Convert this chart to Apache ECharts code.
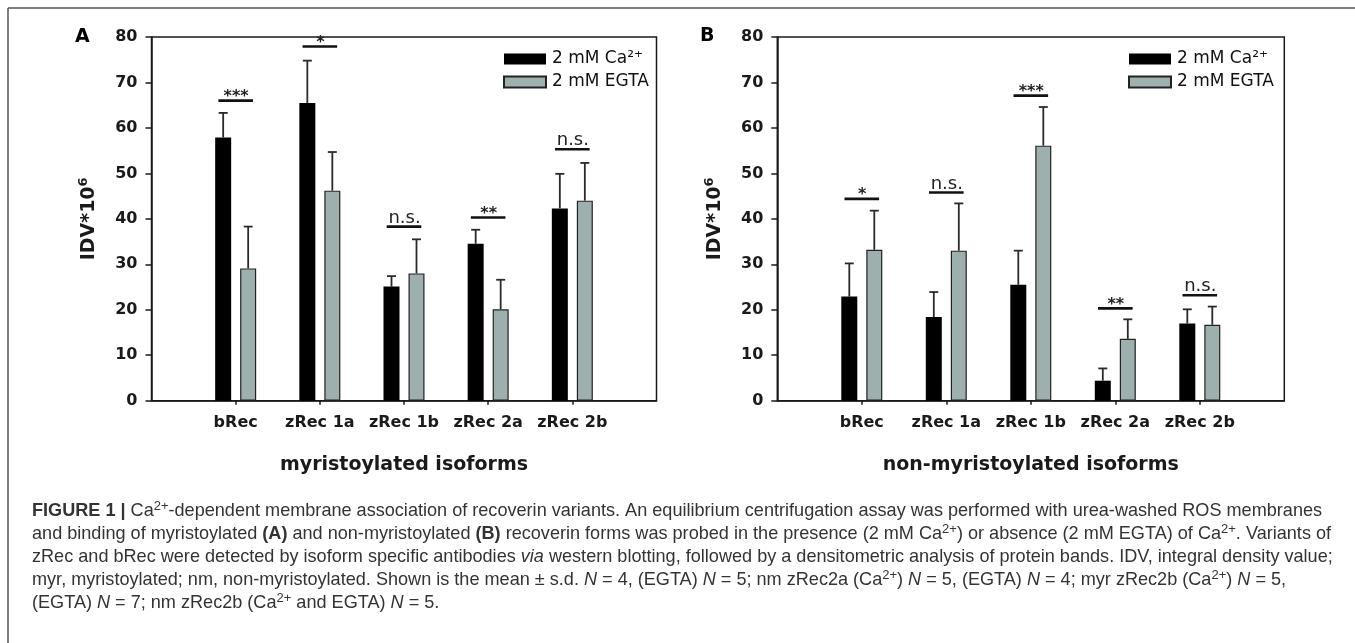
<!DOCTYPE html>
<html><head><meta charset="utf-8">
<script src="https://cdn.jsdelivr.net/npm/echarts@6/dist/echarts.min.js"></script>
<style>html,body{margin:0;padding:0;background:#fff}#c{width:1355px;height:643px}</style>
</head><body><div id="c"></div>
<script>
// ---- data ----
const categories = ['bRec', 'zRec 1a', 'zRec 1b', 'zRec 2a', 'zRec 2b'];
const seriesNames = ['2 mM Ca²⁺', '2 mM EGTA'];
const yTickMin = 0, yTickMax = 80, yTickStep = 10;
const myrCa = [57.9, 65.5, 25.1, 34.5, 42.3];
const myrCaSD = [5.4, 9.3, 2.3, 3.1, 7.6];
const myrEgta = [29.1, 46.2, 28.0, 20.1, 44.0];
const myrEgtaSD = [9.2, 8.5, 7.5, 6.5, 8.3];
const myrSig = ['***', '*', 'n.s.', '**', 'n.s.'];
const myrSigY = [66.0, 77.9, 38.3, 40.3, 55.3];
const nmCa = [22.9, 18.4, 25.5, 4.4, 17.0];
const nmCaSD = [7.3, 5.5, 7.5, 2.7, 3.1];
const nmEgta = [33.2, 33.0, 56.1, 13.6, 16.7];
const nmEgtaSD = [8.6, 10.4, 8.5, 4.3, 4.0];
const nmSig = ['*', 'n.s.', '***', '**', 'n.s.'];
const nmSigY = [44.4, 45.8, 67.1, 20.3, 23.2];
const panelTitles = ['myristoylated isoforms', 'non-myristoylated isoforms'];
const panelLetters = ['A', 'B'];
const yName = 'IDV*10{sup|6}';

// ---- styles ----
const FONT = 'DejaVu Sans';
const INK = '#1a1a1a';
const GRAY = '#9db0ad';
const BAR_W = 16, BAR_GAP = 9;
const OFFSET = (BAR_W + BAR_GAP) / 2;
const axisCats = [''].concat(categories, ['']);
const pad = arr => ['-'].concat(arr, ['-']);

const grids = [
  {left: 151.5, top: 37, width: 505, height: 363.7},
  {left: 777.3, top: 37, width: 507, height: 363.7}
];
const legendPos = [{left: 498, top: 45}, {left: 1123, top: 45}];

function xAxisFor(gi) {
  return {
    type: 'category', gridIndex: gi, data: axisCats, boundaryGap: false,
    axisLine: {lineStyle: {color: INK, width: 1.5}},
    axisTick: {length: 4, lineStyle: {color: INK, width: 1.5},
      interval: (i) => i >= 1 && i <= categories.length},
    axisLabel: {interval: 0, fontFamily: FONT, fontWeight: 'bold', fontSize: 16, color: INK, margin: 14},
    name: panelTitles[gi], nameLocation: 'middle', nameGap: 55,
    nameTextStyle: {fontFamily: FONT, fontWeight: 'bold', fontSize: 19, color: INK},
    splitLine: {show: false}
  };
}
function yAxisFor(gi) {
  return {
    type: 'value', gridIndex: gi, min: yTickMin, max: yTickMax, interval: yTickStep,
    axisLine: {show: true, lineStyle: {color: INK, width: 1.5}},
    axisTick: {show: true, length: 6, lineStyle: {color: INK, width: 1.5}},
    axisLabel: {fontFamily: FONT, fontWeight: 'bold', fontSize: 16, color: INK, margin: 14},
    splitLine: {show: false},
    name: yName, nameLocation: 'middle', nameGap: 50,
    nameTextStyle: {fontFamily: FONT, fontWeight: 'bold', fontSize: 19, color: INK, lineHeight: 24,
      rich: {sup: {fontFamily: FONT, fontWeight: 'bold', fontSize: 13, color: INK, verticalAlign: 'top', lineHeight: 15}}}
  };
}
function barSeries(gi, name, vals, isGray) {
  return {
    type: 'bar', name: name, xAxisIndex: gi, yAxisIndex: gi, data: pad(vals),
    barWidth: BAR_W, barGap: (BAR_GAP / BAR_W * 100) + '%',
    itemStyle: isGray ? {color: GRAY, borderColor: '#222', borderWidth: 1.2} : {color: '#000'},
    emphasis: {disabled: true}, silent: true
  };
}
function errSeries(gi, means, sds, side) {
  return {
    type: 'custom', xAxisIndex: gi, yAxisIndex: gi, silent: true, z: 3,
    data: means.map((m, i) => [i + 1, m, sds[i]]),
    renderItem(params, api) {
      const x = api.value(0), m = api.value(1), s = api.value(2);
      const p0 = api.coord([x, m]), p1 = api.coord([x, m + s]);
      const cx = p0[0] + side * OFFSET;
      return {type: 'group', children: [
        {type: 'line', shape: {x1: cx, y1: p0[1], x2: cx, y2: p1[1]}, style: {stroke: '#2a2a2a', lineWidth: 1.8}},
        {type: 'line', shape: {x1: cx - 4.5, y1: p1[1], x2: cx + 4.5, y2: p1[1]}, style: {stroke: '#2a2a2a', lineWidth: 1.8}}
      ]};
    }
  };
}
function sigSeries(gi, ys, labels) {
  return {
    type: 'custom', xAxisIndex: gi, yAxisIndex: gi, silent: true, z: 3,
    data: ys.map((y, i) => [i + 1, y]),
    renderItem(params, api) {
      const p = api.coord([api.value(0), api.value(1)]);
      const lab = labels[params.dataIndex];
      const ns = lab === 'n.s.';
      return {type: 'group', children: [
        {type: 'line', shape: {x1: p[0] - 17.3, y1: p[1], x2: p[0] + 17.3, y2: p[1]}, style: {stroke: '#111', lineWidth: 2.6}},
        {type: 'text', style: {text: lab, x: p[0] + 0.5, y: ns ? p[1] + 0.5 : p[1] + 4, align: 'center', verticalAlign: 'bottom',
          fontSize: ns ? 18 : 16, fontWeight: ns ? 'normal' : 'bold', fontFamily: FONT, fill: '#222'}}
      ]};
    }
  };
}

const capFont = 'Liberation Sans';
const capSize = 18.1;
const capRich = {
  b: {fontWeight: 'bold', fontSize: capSize, fontFamily: capFont, fill: '#333', lineHeight: 23},
  i: {fontStyle: 'italic', fontSize: capSize, fontFamily: capFont, fill: '#333', lineHeight: 23},
  sup: {fontSize: 13, fontFamily: capFont, fill: '#333', verticalAlign: 'top', lineHeight: 16}
};
const captionLines = [
  '{b|FIGURE 1 |} Ca{sup|2+}-dependent membrane association of recoverin variants. An equilibrium centrifugation assay was performed with urea-washed ROS membranes',
  'and binding of myristoylated {b|(A)} and non-myristoylated {b|(B)} recoverin forms was probed in the presence (2 mM Ca{sup|2+}) or absence (2 mM EGTA) of Ca{sup|2+}. Variants of',
  'zRec and bRec were detected by isoform specific antibodies {i|via} western blotting, followed by a densitometric analysis of protein bands. IDV, integral density value;',
  'myr, myristoylated; nm, non-myristoylated. Shown is the mean ± s.d. {i|N} = 4, (EGTA) {i|N} = 5; nm zRec2a (Ca{sup|2+}) {i|N} = 5, (EGTA) {i|N} = 4; myr zRec2b (Ca{sup|2+}) {i|N} = 5,',
  '(EGTA) {i|N} = 7; nm zRec2b (Ca{sup|2+} and EGTA) {i|N} = 5.'
];
const captionY = [511, 534, 557, 580, 603];

const graphics = [
  {type: 'line', shape: {x1: 8, y1: 8, x2: 1355, y2: 8}, style: {stroke: '#555', lineWidth: 1.5}, silent: true},
  {type: 'line', shape: {x1: 8, y1: 8, x2: 8, y2: 643}, style: {stroke: '#555', lineWidth: 1.5}, silent: true},
  {type: 'text', left: 75, top: 28, style: {text: panelLetters[0], fontFamily: FONT, fontWeight: 'bold', fontSize: 19, fill: '#000'}},
  {type: 'text', left: 700, top: 27, style: {text: panelLetters[1], fontFamily: FONT, fontWeight: 'bold', fontSize: 19, fill: '#000'}}
];
captionLines.forEach((t, i) => {
  graphics.push({type: 'text', x: 32, y: captionY[i], silent: true,
    style: {text: t, x: 0, y: 0, verticalAlign: 'middle', fontFamily: capFont, fontSize: capSize, fill: '#333', lineHeight: 23, rich: capRich}});
});

const chart = echarts.init(document.getElementById('c'), null, {renderer: 'canvas'});
chart.setOption({
  animation: false,
  backgroundColor: '#fff',
  grid: grids.map(g => Object.assign({show: true, borderColor: INK, borderWidth: 1.5, backgroundColor: 'transparent'}, g)),
  xAxis: [xAxisFor(0), xAxisFor(1)],
  yAxis: [yAxisFor(0), yAxisFor(1)],
  legend: legendPos.map(p => ({
    left: p.left, top: p.top, orient: 'vertical', data: seriesNames, icon: 'rect',
    itemWidth: 42, itemHeight: 11, itemGap: 5, selectedMode: false,
    textStyle: {fontFamily: FONT, fontSize: 17, color: '#111', lineHeight: 18, padding: [0, 0, 0, 1]}
  })),
  series: [
    barSeries(0, seriesNames[0], myrCa, false),
    barSeries(0, seriesNames[1], myrEgta, true),
    errSeries(0, myrCa, myrCaSD, -1),
    errSeries(0, myrEgta, myrEgtaSD, 1),
    sigSeries(0, myrSigY, myrSig),
    barSeries(1, seriesNames[0], nmCa, false),
    barSeries(1, seriesNames[1], nmEgta, true),
    errSeries(1, nmCa, nmCaSD, -1),
    errSeries(1, nmEgta, nmEgtaSD, 1),
    sigSeries(1, nmSigY, nmSig)
  ],
  graphic: graphics
});
</script></body></html>
